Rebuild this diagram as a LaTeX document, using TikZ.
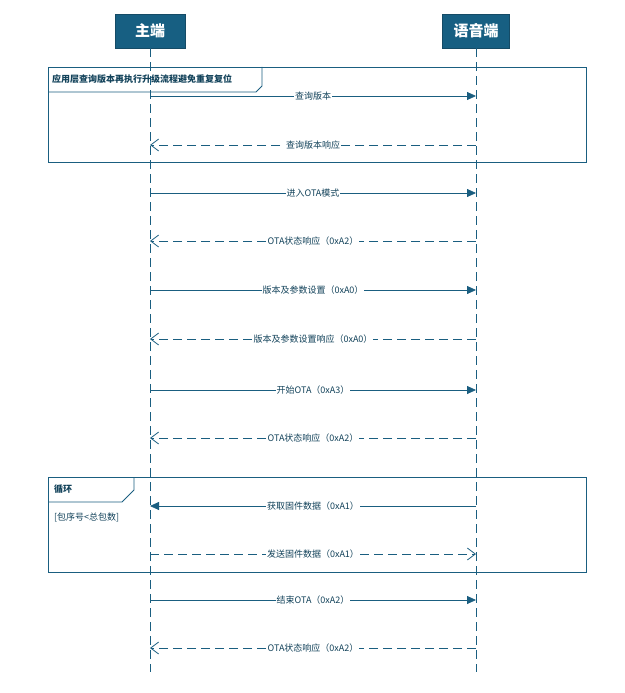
\documentclass[tikz,border=0pt]{standalone}
\usepackage{fontspec}
\setmainfont{Noto Sans CJK SC}
\usetikzlibrary{arrows.meta}
\definecolor{seqblue}{HTML}{1A5E80}
\definecolor{headblue}{HTML}{175F82}
\begin{document}
\begin{tikzpicture}[
    x=1pt, y=-1pt,
    head/.style={rectangle, draw=seqblue!80!black, fill=headblue, text=white, minimum width=70pt, minimum height=34pt, font=\fontsize{15}{17}\selectfont\bfseries},
    lifeline/.style={draw=seqblue, dash pattern=on 9pt off 5pt, thick},
    frame/.style={draw=seqblue, thick},
    msg/.style={-{Triangle[length=9pt,width=8pt]}, draw=seqblue, thick},
    reply/.style={-{Straight Barb[length=8pt,width=12pt]}, draw=seqblue, thick, dash pattern=on 9pt off 5pt},
    lbl/.style={fill=white, inner sep=1pt, text=seqblue!70!black, font=\fontsize{9}{11}\selectfont},
    tab/.style={font=\fontsize{9}{11}\selectfont\bfseries, text=seqblue!70!black, anchor=west, inner sep=1pt}
]
\useasboundingbox (0,0) rectangle (624,693);

% Actors
\node[head] (host) at (150,31) {主端};
\node[head, minimum width=67pt] (voice) at (476,31) {语音端};

% Lifelines
\foreach \n in {host,voice} {
    \draw[lifeline] (\n.south) -- ++(0,624);
}

% Frame: version query
\draw[frame] (48,67) rectangle (586,162);
\draw[frame] (48,92) -- (256,92) -- (262,86) -- (262,67);
\node[tab] (opt) at (51,79.5) {应用层查询版本再执行升级流程避免重复复位};

% Loop frame
\draw[frame] (48,477) rectangle (586,572);
\draw[frame] (48,502) -- (122,502) -- (134,490) -- (134,477);
\node[tab] (loop) at (53,489) {循环};
\node[tab, font=\fontsize{9}{11}\selectfont] (guard) at (53,517) {[包序号<总包数]};

% Messages
\foreach \y in {96,145,193,241,290,339,390,438,506,554,600,648} {
    \coordinate (a\y) at (150,\y);
    \coordinate (b\y) at (476,\y);
}
\draw[msg] (a96) -- node[lbl] {查询版本} (b96);
\draw[reply] (b145) -- node[lbl] {查询版本响应} (a145);
\draw[msg] (a193) -- node[lbl] {进入OTA模式} (b193);
\draw[reply] (b241) -- node[lbl] {OTA状态响应（0xA2）} (a241);
\draw[msg] (a290) -- node[lbl] {版本及参数设置（0xA0）} (b290);
\draw[reply] (b339) -- node[lbl] {版本及参数设置响应（0xA0）} (a339);
\draw[msg] (a390) -- node[lbl] {开始OTA（0xA3）} (b390);
\draw[reply] (b438) -- node[lbl] {OTA状态响应（0xA2）} (a438);
\draw[msg] (b506) -- node[lbl] {获取固件数据（0xA1）} (a506);
\draw[reply] (a554) -- node[lbl] {发送固件数据（0xA1）} (b554);
\draw[msg] (a600) -- node[lbl] {结束OTA（0xA2）} (b600);
\draw[reply] (b648) -- node[lbl] {OTA状态响应（0xA2）} (a648);

\end{tikzpicture}
\end{document}
